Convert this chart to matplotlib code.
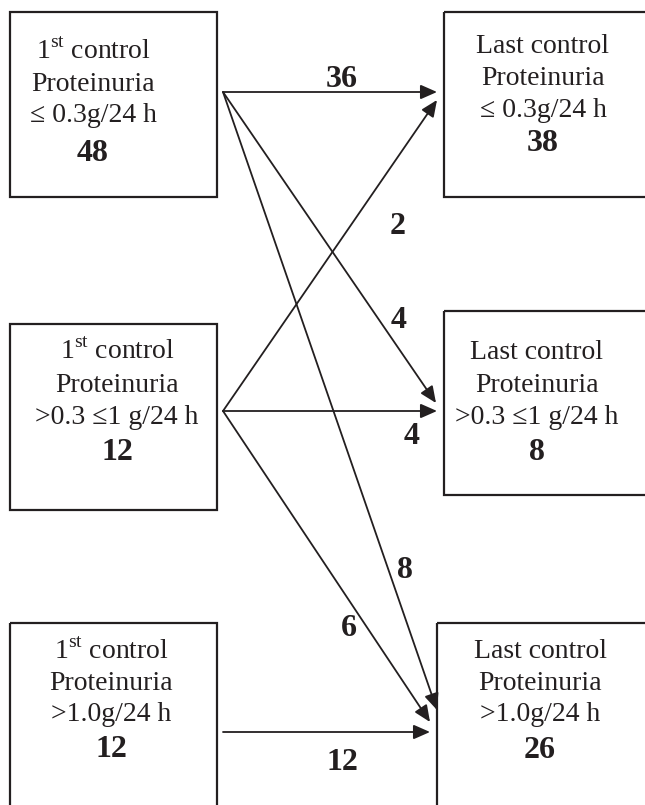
#!/usr/bin/env python3
"""
Flow diagram of proteinuria class between the first and the last control.
Left column: first control, right column: last control, arrows carry patient counts.
"""

import matplotlib

matplotlib.use("Agg")
import matplotlib.pyplot as plt
from matplotlib.patches import Rectangle

# Data
first_classes = ["\u2264 0.3g/24 h", ">0.3 \u22641 g/24 h", ">1.0g/24 h"]
last_classes = ["\u2264 0.3g/24 h", ">0.3 \u22641 g/24 h", ">1.0g/24 h"]
first_counts = [48, 12, 12]
last_counts = [38, 8, 26]
# (source class, target class, patients)
flow_src = [0, 0, 0, 1, 1, 1, 2]
flow_dst = [0, 1, 2, 0, 1, 2, 2]
flow_n = [36, 4, 8, 2, 4, 6, 12]

# Layout (pixel coordinates, y downwards)
W, H = 645, 805
SERIF = ["Liberation Serif", "DejaVu Serif"]
EDGE = "#231f20"

left_boxes = [(10, 12, 207, 185), (10, 324, 207, 186), (10, 623, 207, 200)]
right_boxes = [(444, 12, 220, 185), (444, 311, 220, 184), (437, 623, 220, 200)]
left_text_x = [93, 117, 111]
right_text_x = [543, 537, 540]
left_baselines = [[59, 91, 122, 161], [359, 392, 424, 460], [659, 690, 721, 757]]
right_baselines = [[53, 85, 117, 151], [359, 392, 424, 460], [658, 690, 721, 758]]

src_pts = [(223, 92), (223, 411), (223, 732)]
# arrow tips per flow, in flow order
tip_pts = [(437, 92), (436, 403), (437, 710), (437, 100), (437, 411), (430, 722), (430, 732)]
label_pts = [(342, 87), (399, 328), (405, 578), (398, 234), (412, 444), (349, 636), (342, 770)]


def draw_box(ax, box, head, cls, count, tx, baselines):
	x, y, w, h = box
	ax.add_patch(Rectangle((x, y), w, h, fill=False, ec=EDGE, lw=1.6, clip_on=True))
	lines = [head, "Proteinuria", cls]
	for txt, by in zip(lines, baselines[:3]):
		ax.text(tx, by, txt, ha="center", va="baseline", fontsize=20, family=SERIF, color=EDGE)
	ax.text(tx, baselines[3], str(count), ha="center", va="baseline", fontsize=23,
		fontweight="bold", family=SERIF, color=EDGE)


def main() -> None:
	plt.rcParams["mathtext.fontset"] = "custom"
	plt.rcParams["mathtext.rm"] = "Liberation Serif"

	fig = plt.figure(figsize=(W / 100, H / 100), dpi=100)
	ax = fig.add_axes([0, 0, 1, 1])
	ax.set_xlim(0, W)
	ax.set_ylim(H, 0)
	ax.axis("off")

	for i in range(3):
		draw_box(ax, left_boxes[i], r"1$^{\mathrm{st}}$ control", first_classes[i],
			first_counts[i], left_text_x[i], left_baselines[i])
		draw_box(ax, right_boxes[i], "Last control", last_classes[i],
			last_counts[i], right_text_x[i], right_baselines[i])

	for s, d, n, tip, lp in zip(flow_src, flow_dst, flow_n, tip_pts, label_pts):
		ax.annotate(
			"", xy=tip, xytext=src_pts[s],
			arrowprops=dict(arrowstyle="-|>,head_length=0.5,head_width=0.22",
				mutation_scale=20, lw=1.3, color=EDGE, shrinkA=0, shrinkB=0),
		)
		ax.text(lp[0], lp[1], str(n), ha="center", va="baseline", fontsize=23,
			fontweight="bold", family=SERIF, color=EDGE)

	fig.savefig("out.png", dpi=100, facecolor="white")
	plt.close(fig)


if __name__ == "__main__":
	main()
